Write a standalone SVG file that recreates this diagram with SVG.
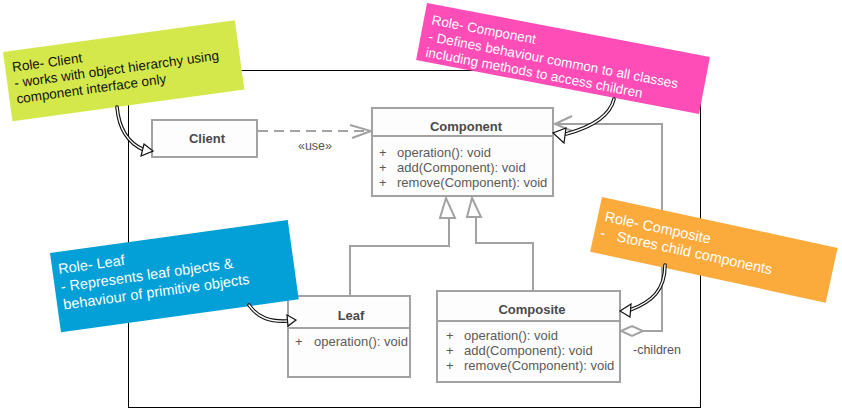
<svg xmlns="http://www.w3.org/2000/svg" width="842" height="413" viewBox="0 0 842 413">
<style>
.box{fill:#fdfdfd;stroke:#a2a2a2;stroke-width:2}
.div{stroke:#a2a2a2;stroke-width:2;fill:none}
.title{font-family:"Liberation Sans",Arial,sans-serif;font-size:13px;font-weight:bold;fill:#4a4a4a;text-anchor:middle}
.mem{font-family:"Liberation Sans",Arial,sans-serif;font-size:13px;fill:#5a5a5a}
.conn{fill:none;stroke:#a2a2a2;stroke-width:2}
.dash{fill:none;stroke:#a2a2a2;stroke-width:2;stroke-dasharray:10 6}
.tri{fill:#ffffff;stroke:#a2a2a2;stroke-width:2;stroke-linejoin:miter}
.lbl{font-family:"Liberation Sans",Arial,sans-serif;font-size:12.5px;fill:#555}
.note{font-family:"Liberation Sans",sans-serif}
.nb{fill:none;stroke:#111;stroke-width:3.6;stroke-linecap:round}
.nw{fill:none;stroke:#fff;stroke-width:1.4;stroke-linecap:round}
.nh{fill:#fff;stroke:#111;stroke-width:1.2;stroke-linejoin:miter}
</style>
<rect width="842" height="413" fill="#ffffff"/>
<g id="frame">
<rect x="128.5" y="70.5" width="572" height="337" fill="none" stroke="#000" stroke-width="1"/>
</g>
<g id="connectors">
<path class="dash" d="M258,131 L368,131"/>
<path class="conn" d="M350,125 L371,131 L352,138"/>
<text class="lbl" x="315" y="150" text-anchor="middle">«use»</text>
<path class="conn" d="M350,295 L350,246 L449,246 L449,218"/>
<polygon class="tri" points="446,198 440,218 455,218"/>
<path class="conn" d="M533,290 L533,243 L476,243 L476,217"/>
<polygon class="tri" points="472,198 467,217 481,217"/>
<polygon class="tri" points="621,331 632,326 643,331 632,336"/>
<path class="conn" d="M643,331 L662,331 L662,124 L556,124"/>
<path class="conn" d="M572,116 L555,124 L572,131"/>
<text class="lbl" x="633" y="354">-children</text>
</g>
<g id="client">
<rect class="box" x="152" y="120" width="105" height="37"/>
<text class="title" x="207" y="143">Client</text>
</g>
<g id="component">
<rect class="box" x="372" y="108" width="181" height="88"/>
<line class="div" x1="372" y1="136" x2="553" y2="136"/>
<text class="title" x="466" y="131">Component</text>
<text class="mem" x="379" y="157">+</text><text class="mem" x="397" y="157">operation(): void</text>
<text class="mem" x="379" y="172">+</text><text class="mem" x="397" y="172">add(Component): void</text>
<text class="mem" x="379" y="187">+</text><text class="mem" x="397" y="187">remove(Component): void</text>
</g>
<g id="leaf">
<rect class="box" x="288" y="296" width="122" height="81"/>
<line class="div" x1="288" y1="328" x2="410" y2="328"/>
<text class="title" x="351" y="320">Leaf</text>
<text class="mem" x="295" y="346">+</text><text class="mem" x="314" y="346">operation(): void</text>
</g>
<g id="composite">
<rect class="box" x="437" y="291" width="183" height="91"/>
<line class="div" x1="437" y1="321" x2="620" y2="321"/>
<text class="title" x="532" y="314">Composite</text>
<text class="mem" x="446" y="340">+</text><text class="mem" x="464" y="340">operation(): void</text>
<text class="mem" x="446" y="355">+</text><text class="mem" x="464" y="355">add(Component): void</text>
<text class="mem" x="446" y="370">+</text><text class="mem" x="464" y="370">remove(Component): void</text>
</g>
<g id="note-client">
<g transform="translate(3,52) rotate(-7.8)">
<rect width="234" height="70" fill="#d5e84b"/>
<text class="note" font-size="13.5" fill="#111"><tspan x="7" y="21">Role- Client</tspan><tspan x="7" y="37">- works with object hierarchy using</tspan><tspan x="7" y="53">component interface only</tspan></text>
</g>
<path class="nb" d="M117,107 C119,130 128,143 144,150"/>
<path class="nw" d="M117,107 C119,130 128,143 144,150"/>
<polygon class="nh" points="144,144 153,151 141,156"/>
</g>
<g id="note-component">
<g transform="translate(427,3) rotate(10.8)">
<rect width="288" height="58" fill="#fe4db7"/>
<text class="note" font-size="13.5" fill="#fff"><tspan x="8" y="20">Role- Component</tspan><tspan x="8" y="37">- Defines behaviour common to all classes</tspan><tspan x="8" y="53">including methods to access children</tspan></text>
</g>
<path class="nb" d="M614,99 C610,116 592,127 566,134"/>
<path class="nw" d="M614,99 C610,116 592,127 566,134"/>
<polygon class="nh" points="566,128 553,133 564,143"/>
</g>
<g id="note-leaf">
<g transform="translate(50,253) rotate(-7.9)">
<rect width="240" height="80" fill="#02a0d6"/>
<text class="note" font-size="14.5" fill="#fff"><tspan x="6" y="22">Role- Leaf</tspan><tspan x="6" y="40">- Represents leaf objects &amp;</tspan><tspan x="6" y="58">behaviour of primitive objects</tspan></text>
</g>
<path class="nb" d="M249,305 C258,318 270,322 288,321"/>
<path class="nw" d="M249,305 C258,318 270,322 288,321"/>
<polygon class="nh" points="287,315 296,320 288,326"/>
</g>
<g id="note-composite">
<g transform="translate(602,197) rotate(12.2)">
<rect width="241" height="56" fill="#fbab3b"/>
<text class="note" font-size="14.5" fill="#fff" xml:space="preserve"><tspan x="7" y="23">Role- Composite</tspan><tspan x="6" y="40">-   Stores child components</tspan></text>
</g>
<path class="nb" d="M665,265 C665,290 652,302 630,310"/>
<path class="nw" d="M665,265 C665,290 652,302 630,310"/>
<polygon class="nh" points="631,304 620,311 630,317"/>
</g>
</svg>
